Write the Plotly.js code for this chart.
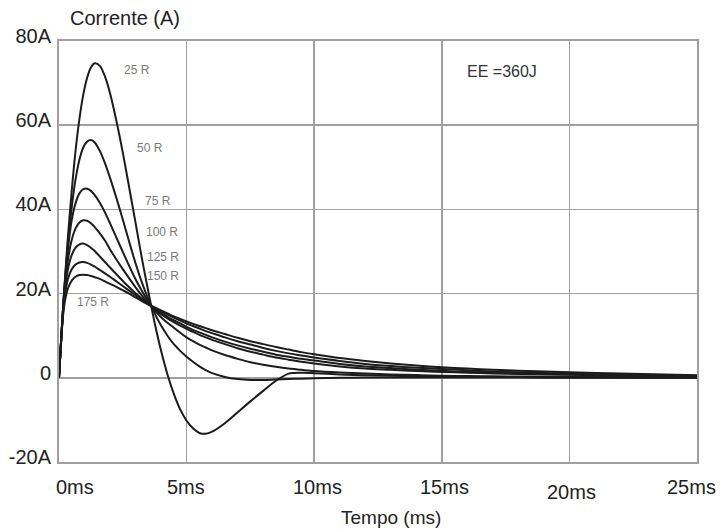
<!DOCTYPE html>
<html>
<head>
<meta charset="utf-8">
<script src="https://cdn.plot.ly/plotly-3.0.1.min.js"></script>
<style>
  html, body { margin: 0; padding: 0; background: #ffffff; }
  #chart { width: 720px; height: 529px; }
</style>
</head>
<body>
<div id="chart"></div>
<script>
// ---- Data (time in ms, current in A) ----
const timeMs = [0, 0.1, 0.2, 0.35, 0.5, 0.65, 0.8, 0.95, 1.1, 1.25, 1.4, 1.6, 1.8, 2.0, 2.25, 2.5, 2.75, 3.0, 3.25, 3.5, 3.75, 4.0, 4.25, 4.5, 4.75, 5.0, 5.25, 5.5, 5.75, 6.0, 6.5, 7.0, 7.5, 8.0, 8.5, 9.0, 9.5, 10, 11, 12, 13, 14, 15, 16, 17, 18, 20, 22, 25];

const seriesNames = ['25 R', '50 R', '75 R', '100 R', '125 R', '150 R', '175 R'];

const current25 = [0, 10.5, 20.5, 33.5, 44.5, 54.0, 61.5, 67.2, 71.2, 73.7, 74.7, 74.1, 71.6, 67.6, 61.0, 53.5, 45.2, 36.8, 28.3, 20.5, 13.0, 6.4, 0.8, -3.8, -7.5, -10.2, -12.0, -13.1, -13.3, -12.8, -10.8, -8.2, -5.6, -3.1, -0.7, 1.0, 1.2, 1.1, 0.8, 0.6, 0.5, 0.4, 0.3, 0.25, 0.2, 0.2, 0.1, 0.1, 0.05];
const current50 = [0, 10.8, 20.2, 31.8, 40.6, 47.2, 51.8, 54.7, 56.1, 56.5, 55.9, 53.9, 51.0, 47.5, 42.7, 37.6, 32.3, 27.2, 22.6, 18.7, 15.3, 12.4, 10.0, 8.0, 6.4, 5.0, 3.8, 2.7, 1.8, 1.1, 0.2, -0.3, -0.5, -0.5, -0.4, -0.3, -0.2, -0.1, 0, 0.05, 0.05, 0.05, 0.05, 0.05, 0.05, 0.05, 0.03, 0.02, 0.01];
const current75 = [0, 10.8, 20.0, 30.5, 37.5, 41.5, 43.8, 44.8, 44.9, 44.4, 43.4, 41.6, 39.3, 36.7, 33.3, 29.9, 26.6, 23.4, 20.6, 18.1, 16.0, 14.4, 13.1, 11.9, 10.7, 9.6, 8.7, 7.9, 7.2, 6.5, 5.4, 4.5, 3.7, 3.1, 2.6, 2.2, 1.9, 1.6, 1.25, 1.0, 0.8, 0.65, 0.5, 0.42, 0.35, 0.3, 0.2, 0.15, 0.1];
const current100 = [0, 10.7, 19.5, 28.0, 32.8, 35.5, 36.9, 37.4, 37.3, 36.7, 35.8, 34.3, 32.6, 30.5, 28.1, 25.8, 23.6, 21.5, 19.5, 17.7, 16.2, 15.1, 14.1, 13.2, 12.4, 11.6, 10.9, 10.2, 9.6, 9.0, 8.0, 7.0, 6.2, 5.5, 4.8, 4.3, 3.8, 3.4, 2.7, 2.2, 1.9, 1.6, 1.4, 1.2, 1.05, 0.9, 0.7, 0.5, 0.3];
const current125 = [0, 10.5, 18.8, 25.8, 29.2, 30.9, 31.7, 31.9, 31.5, 30.9, 30.1, 28.8, 27.5, 26.2, 24.6, 23.0, 21.5, 20.1, 18.8, 17.6, 16.4, 15.4, 14.5, 13.7, 12.9, 12.1, 11.4, 10.8, 10.2, 9.6, 8.6, 7.7, 6.9, 6.2, 5.5, 5.0, 4.5, 4.1, 3.3, 2.7, 2.3, 1.9, 1.65, 1.4, 1.2, 1.05, 0.8, 0.6, 0.4];
const current150 = [0, 10.4, 18.0, 23.5, 25.8, 26.9, 27.4, 27.5, 27.3, 26.9, 26.4, 25.6, 24.8, 24.0, 22.9, 21.8, 20.7, 19.6, 18.5, 17.5, 16.6, 15.8, 15.0, 14.3, 13.6, 12.9, 12.3, 11.7, 11.1, 10.6, 9.6, 8.7, 7.9, 7.1, 6.4, 5.8, 5.3, 4.8, 4.0, 3.3, 2.8, 2.4, 2.1, 1.8, 1.5, 1.3, 1.0, 0.8, 0.5];
const current175 = [0, 10.2, 17.0, 21.2, 23.1, 24.0, 24.4, 24.5, 24.4, 24.2, 23.9, 23.5, 22.9, 22.3, 21.6, 20.8, 20.0, 19.1, 18.2, 17.4, 16.7, 16.0, 15.3, 14.6, 14.0, 13.4, 12.8, 12.3, 11.8, 11.3, 10.4, 9.5, 8.7, 8.0, 7.3, 6.7, 6.1, 5.6, 4.7, 4.0, 3.4, 2.9, 2.5, 2.2, 1.9, 1.7, 1.3, 1.0, 0.6];

const xTickVals = [0, 5, 10, 15, 20, 25];
const xTickText = ['0ms', '5ms', '10ms', '15ms', '20ms', '25ms'];
const yTickVals = [-20, 0, 20, 40, 60, 80];
const yTickText = ['-20A', '0', '20A', '40A', '60A', '80A'];

const energyLabel = 'EE =360J';
const xTitle = 'Tempo (ms)';
const yTitle = 'Corrente (A)';

// ---- Placement (layout only) ----
const seriesLabelPos = [[3.06, 73.0], [3.57, 54.7], [3.88, 41.9], [4.04, 34.7], [4.08, 28.8], [4.08, 24.2], [1.33, 18.1]];
const xTickShift = [[16, 0], [-1, 0], [3, 0], [3, 0], [2, -5], [-6, 0]];

const allSeries = [current25, current50, current75, current100, current125, current150, current175];

const FONT = '"Liberation Sans", Arial, Helvetica, sans-serif';
const GRID = '#a0a0a0';

const traces = allSeries.map((ys, i) => ({
  type: 'scatter',
  mode: 'lines',
  name: seriesNames[i],
  x: timeMs,
  y: ys,
  line: { color: '#1c1c1c', width: 2, shape: 'spline', smoothing: 0.8 },
  hoverinfo: 'skip'
}));

const annotations = [];
seriesNames.forEach((n, i) => {
  annotations.push({
    x: seriesLabelPos[i][0], y: seriesLabelPos[i][1], xref: 'x', yref: 'y',
    text: n, showarrow: false, xanchor: 'center', yanchor: 'middle',
    font: { family: FONT, size: 12, color: '#7a7a7a' }
  });
});
annotations.push({
  x: 17.35, y: 72.7, xref: 'x', yref: 'y', text: energyLabel, showarrow: false,
  xanchor: 'center', yanchor: 'middle', font: { family: FONT, size: 16, color: '#333' }
});
xTickVals.forEach((v, i) => {
  annotations.push({
    x: v, y: 0, xref: 'x', yref: 'paper', text: xTickText[i], showarrow: false,
    xanchor: 'center', yanchor: 'middle', xshift: xTickShift[i][0], yshift: -25 + xTickShift[i][1],
    font: { family: FONT, size: 20, color: '#222' }
  });
});
annotations.push({
  x: 0.52, y: 0, xref: 'paper', yref: 'paper', text: xTitle, showarrow: false,
  xanchor: 'center', yanchor: 'middle', yshift: -55,
  font: { family: FONT, size: 19, color: '#222' }
});
annotations.push({
  x: 0, y: 1, xref: 'paper', yref: 'paper', text: yTitle, showarrow: false,
  xanchor: 'center', yanchor: 'middle', xshift: 66, yshift: 23,
  font: { family: FONT, size: 20, color: '#222' }
});

const layout = {
  width: 720, height: 529,
  margin: { l: 59, r: 23, t: 41, b: 67 },
  paper_bgcolor: '#ffffff', plot_bgcolor: '#ffffff',
  showlegend: false,
  xaxis: {
    range: [0, 25], tickvals: xTickVals, showticklabels: false,
    showgrid: true, gridcolor: GRID, gridwidth: 1.5,
    showline: true, mirror: true, linecolor: GRID, linewidth: 2,
    zeroline: false, ticks: '', fixedrange: true
  },
  yaxis: {
    range: [-20, 80], tickvals: yTickVals, ticktext: yTickText,
    tickfont: { family: FONT, size: 20, color: '#222' },
    ticklabelshift: -5, ticklabelstandoff: 2,
    showgrid: true, gridcolor: GRID, gridwidth: 1.5,
    showline: true, mirror: true, linecolor: GRID, linewidth: 2,
    zeroline: false, ticks: '', fixedrange: true
  },
  annotations: annotations
};

Plotly.newPlot('chart', traces, layout, { displayModeBar: false, staticPlot: true });
</script>
</body>
</html>
